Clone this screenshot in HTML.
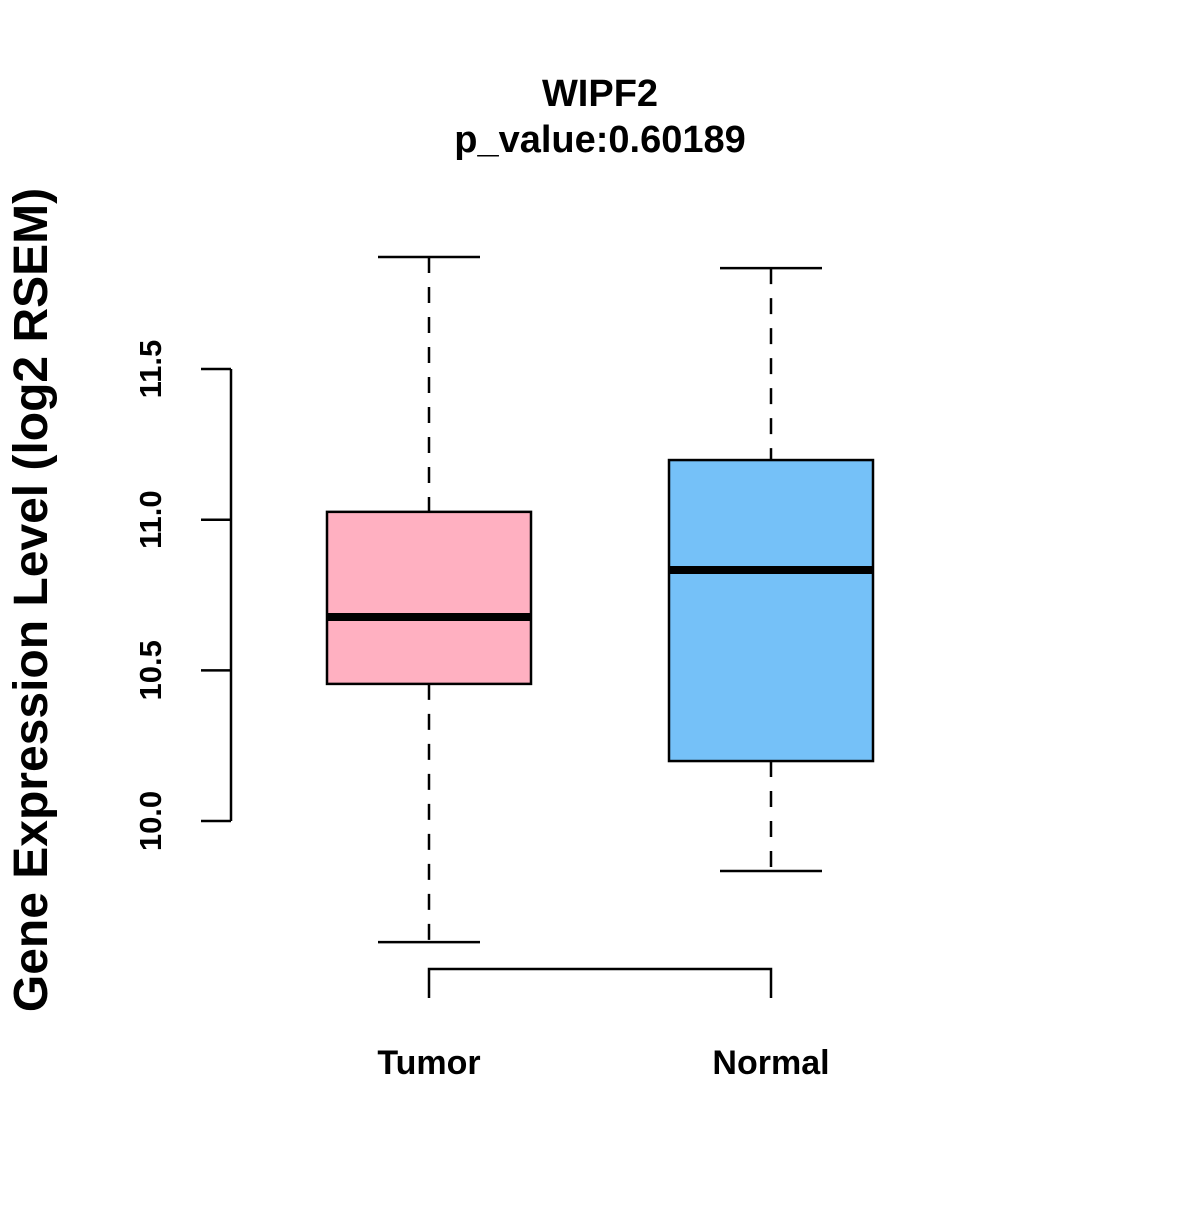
<!DOCTYPE html>
<html><head><meta charset="utf-8"><style>
html,body{margin:0;padding:0;background:#fff;}
text{font-family:"Liberation Sans",Arial,sans-serif;font-weight:bold;fill:#000;}
</style></head><body>
<svg id="chart" width="1200" height="1200" viewBox="0 0 1200 1200" xmlns="http://www.w3.org/2000/svg">
<rect width="1200" height="1200" fill="#fff"/>
<text x="600" y="106" font-size="38" text-anchor="middle">WIPF2</text>
<text x="600" y="152" font-size="38" text-anchor="middle">p_value:0.60189</text>
<text transform="translate(47,600) rotate(-90)" font-size="48" text-anchor="middle">Gene Expression Level (log2 RSEM)</text>
<g id="yaxis"></g>
<g id="boxes"></g>
<g id="bracket"></g>
</svg>
<script>
const categories = ["Tumor", "Normal"];
const whiskerHigh = [11.872, 11.835];
const q3Values = [11.026, 11.198];
const medians = [10.677, 10.833];
const q1Values = [10.455, 10.199];
const whiskerLow = [9.598, 9.834];
const yTicks = [10.0, 10.5, 11.0, 11.5];
const yTickLabels = ["10.0", "10.5", "11.0", "11.5"];
const fills = ["#FFB0C1", "#75C1F8"];

const NS = "http://www.w3.org/2000/svg";
function y(v){ return 821 - (v - 10) * 301.3; }
function x(i){ return 429 + i * 342; }
function mk(tag, attrs, parent){
  const e = document.createElementNS(NS, tag);
  for (const k in attrs) e.setAttribute(k, attrs[k]);
  parent.appendChild(e);
  return e;
}
const ya = document.getElementById('yaxis');
const ax = mk('line', {x1:231, x2:231, y1:y(yTicks[0]), y2:y(yTicks[yTicks.length-1]), stroke:'#000', 'stroke-width':2.5}, ya);


yTicks.forEach((t, i) => {
  const tk = mk('line', {x1:201, x2:231, y1:y(t), y2:y(t), stroke:'#000', 'stroke-width':2.5}, ya);
  
  
  const tl = mk('text', {transform:`translate(161,${y(t)}) rotate(-90)`, 'font-size':31, 'text-anchor':'middle'}, ya);
  tl.textContent = yTickLabels[i];
  
  
});
const bx = document.getElementById('boxes');
categories.forEach((c, i) => {
  const cx = x(i);
  const g = mk('g', {}, bx);
  
  
  mk('line', {x1:cx, x2:cx, y1:y(whiskerHigh[i]), y2:y(q3Values[i]), stroke:'#000', 'stroke-width':2.5, 'stroke-dasharray':'16,14'}, g);
  mk('line', {x1:cx, x2:cx, y1:y(q1Values[i]), y2:y(whiskerLow[i]), stroke:'#000', 'stroke-width':2.5, 'stroke-dasharray':'16,14'}, g);
  mk('line', {x1:cx-51, x2:cx+51, y1:y(whiskerHigh[i]), y2:y(whiskerHigh[i]), stroke:'#000', 'stroke-width':2.5}, g);
  mk('line', {x1:cx-51, x2:cx+51, y1:y(whiskerLow[i]), y2:y(whiskerLow[i]), stroke:'#000', 'stroke-width':2.5}, g);
  mk('rect', {x:cx-102, y:y(q3Values[i]), width:204, height:y(q1Values[i]) - y(q3Values[i]), fill:fills[i], stroke:'#000', 'stroke-width':2.5}, g);
  mk('line', {x1:cx-102, x2:cx+102, y1:y(medians[i]), y2:y(medians[i]), stroke:'#000', 'stroke-width':8}, g);
  const lab = mk('text', {x:cx, y:1074, 'font-size':34, 'text-anchor':'middle'}, bx);
  lab.textContent = c;
  
  
});
const br = document.getElementById('bracket');
mk('polyline', {points:`${x(0)},998 ${x(0)},969 ${x(1)},969 ${x(1)},998`, fill:'none', stroke:'#000', 'stroke-width':2.5}, br);
</script>
</body></html>
